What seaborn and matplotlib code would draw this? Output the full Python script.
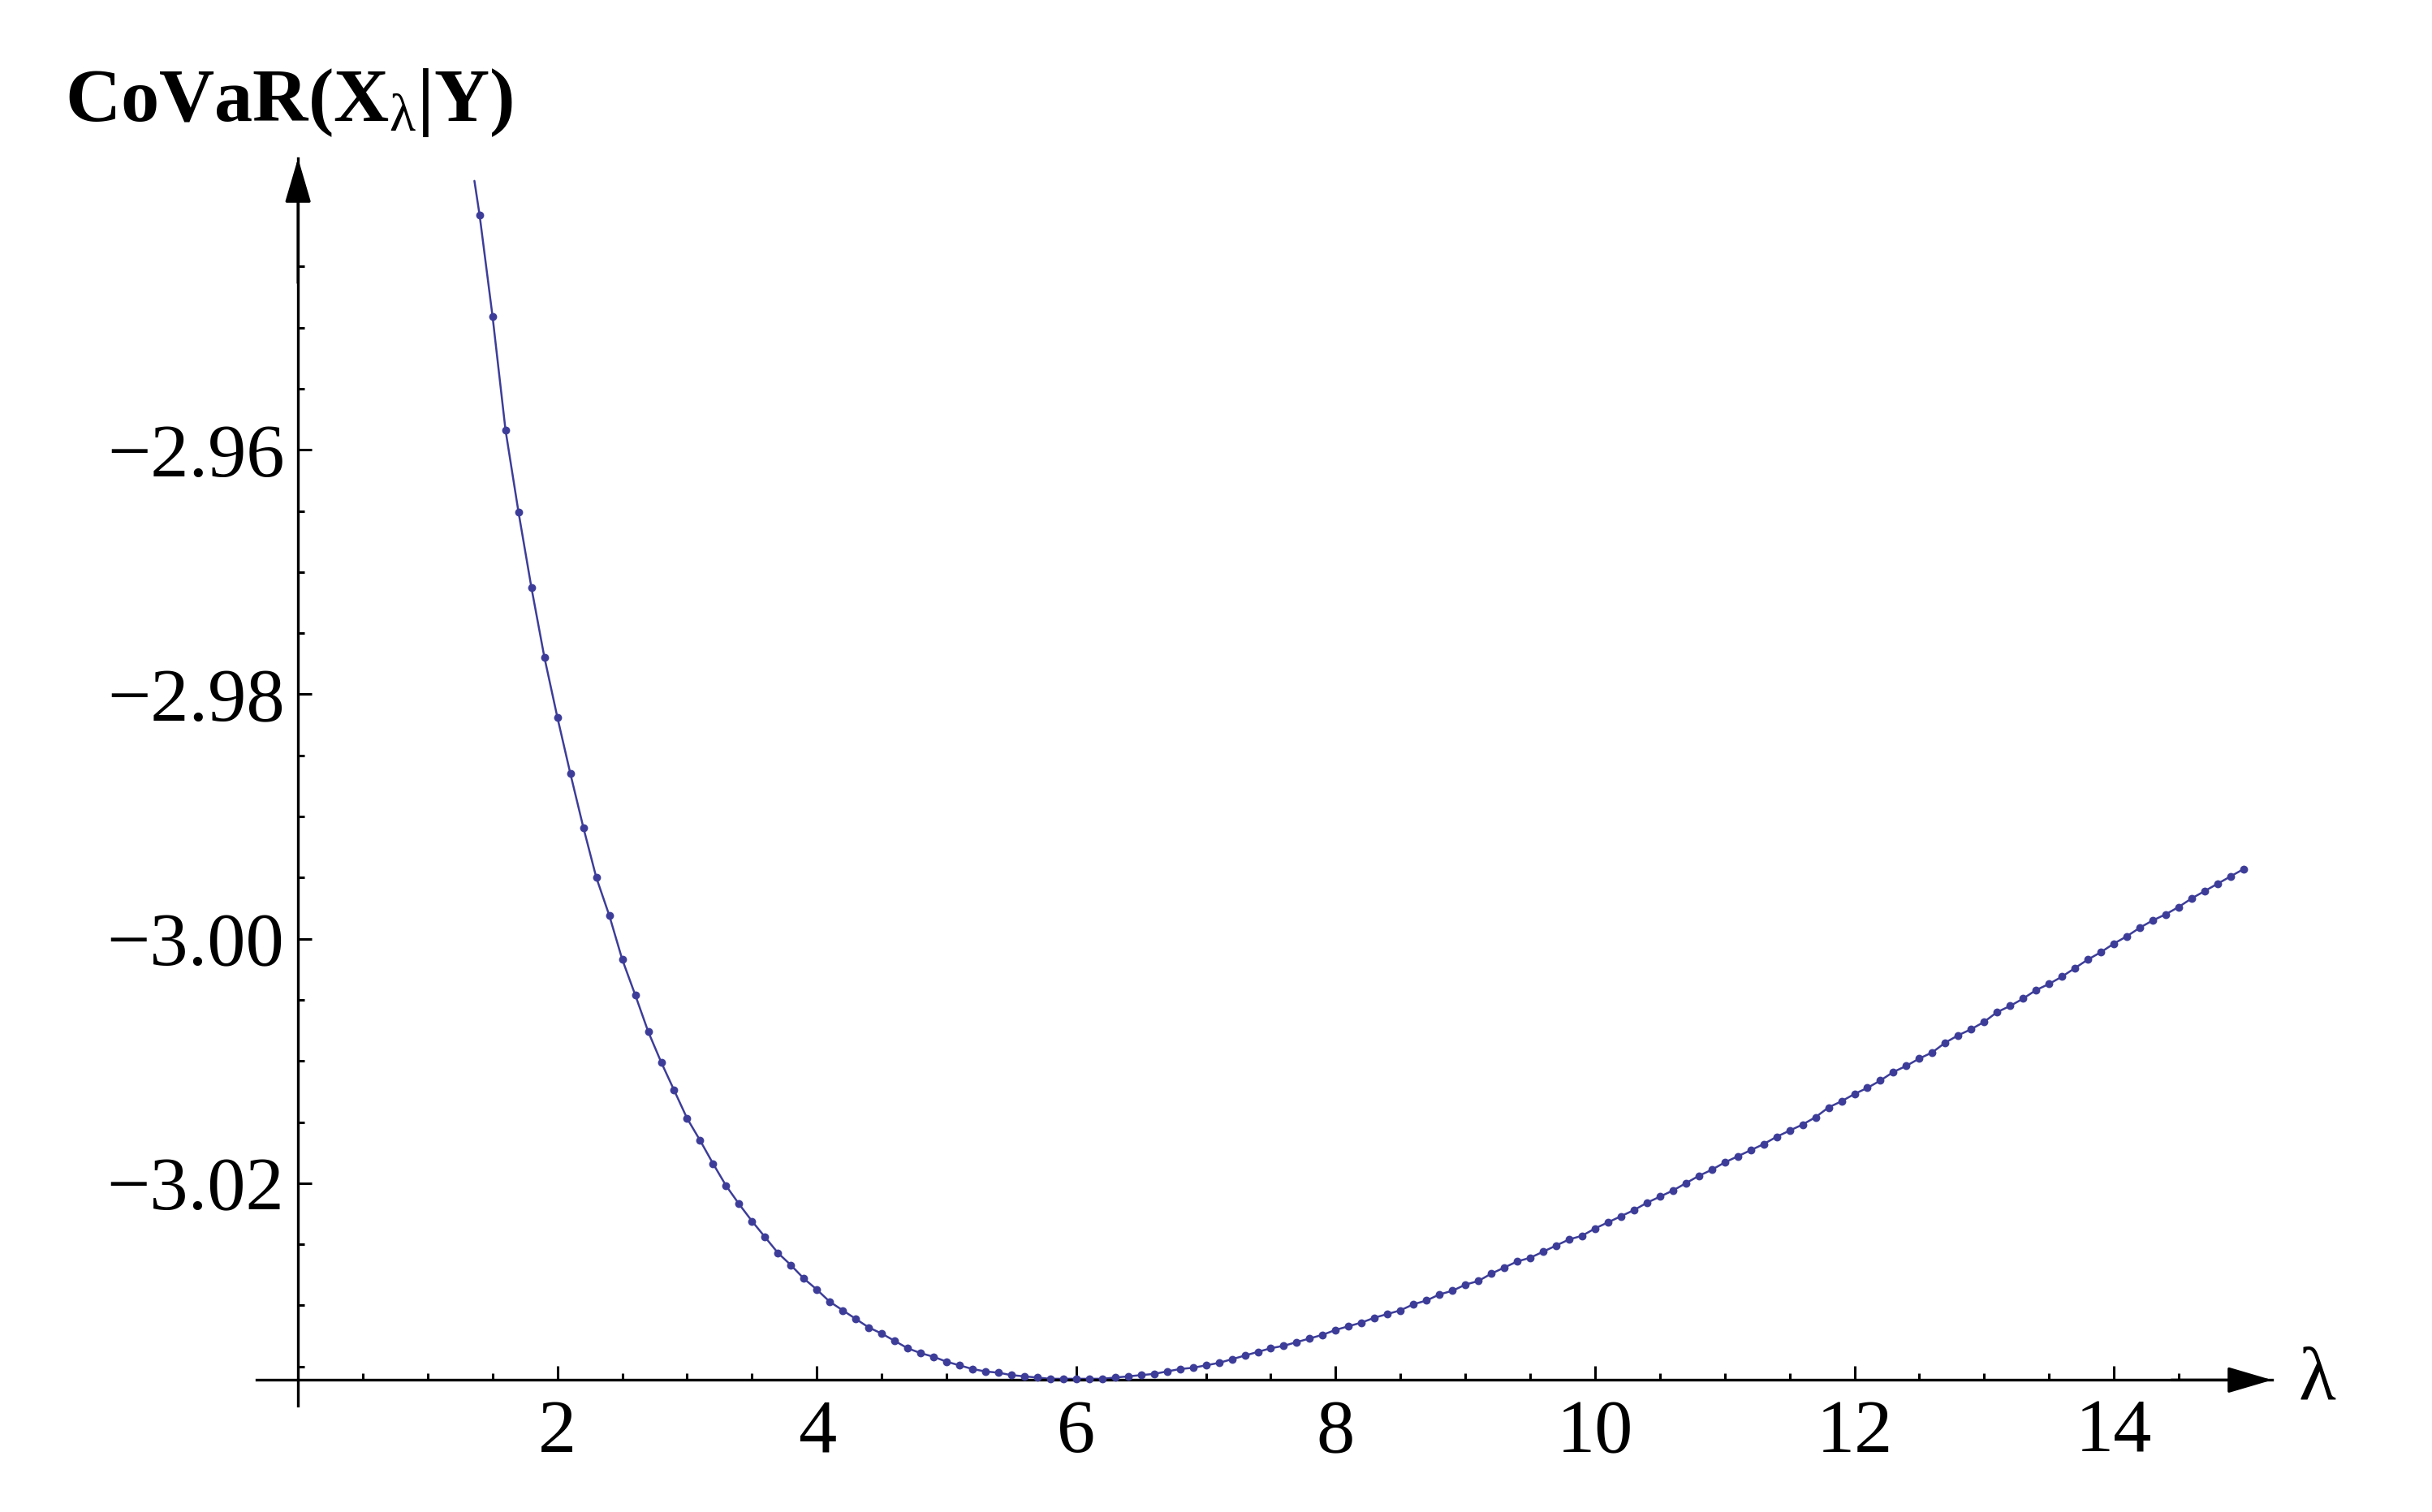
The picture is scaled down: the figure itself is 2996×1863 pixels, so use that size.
import numpy as np
import matplotlib
matplotlib.use("Agg")
import matplotlib.pyplot as plt
import seaborn as sns

# lambda grid of the sampled points (first one is where the curve leaves the top of the plot range)
lam = [1.36, 1.4, 1.5, 1.6, 1.7, 1.8, 1.9, 2.0, 2.1, 2.2, 2.3, 2.4, 2.5, 2.6, 2.7, 2.8, 2.9,
       3.0, 3.1, 3.2, 3.3, 3.4, 3.5, 3.6, 3.7, 3.8, 3.9, 4.0, 4.1, 4.2, 4.3, 4.4, 4.5,
       4.6, 4.7, 4.8, 4.9, 5.0, 5.1, 5.2, 5.3, 5.4, 5.5, 5.6, 5.7, 5.8, 5.9, 6.0, 6.1,
       6.2, 6.3, 6.4, 6.5, 6.6, 6.7, 6.8, 6.9, 7.0, 7.1, 7.2, 7.3, 7.4, 7.5, 7.6, 7.7,
       7.8, 7.9, 8.0, 8.1, 8.2, 8.3, 8.4, 8.5, 8.6, 8.7, 8.8, 8.9, 9.0, 9.1, 9.2, 9.3,
       9.4, 9.5, 9.6, 9.7, 9.8, 9.9, 10.0, 10.1, 10.2, 10.3, 10.4, 10.5, 10.6, 10.7,
       10.8, 10.9, 11.0, 11.1, 11.2, 11.3, 11.4, 11.5, 11.6, 11.7, 11.8, 11.9, 12.0,
       12.1, 12.2, 12.3, 12.4, 12.5, 12.6, 12.7, 12.8, 12.9, 13.0, 13.1, 13.2, 13.3,
       13.4, 13.5, 13.6, 13.7, 13.8, 13.9, 14.0, 14.1, 14.2, 14.3, 14.4, 14.5, 14.6,
       14.7, 14.8, 14.9, 15.0]

covar = [-2.9380, -2.9408, -2.9491, -2.9584, -2.9651, -2.9713, -2.9770, -2.9819, -2.9865,
         -2.9909, -2.9950, -2.9981, -3.0017, -3.0046, -3.0076, -3.0101, -3.0124,
         -3.0147, -3.0165, -3.0184, -3.0202, -3.0217, -3.0231, -3.0244, -3.0257,
         -3.0267, -3.0278, -3.0287, -3.0297, -3.0304, -3.0311, -3.0318, -3.0323,
         -3.0329, -3.0335, -3.0339, -3.0342, -3.0346, -3.0349, -3.0352, -3.0354,
         -3.0355, -3.0357, -3.0358, -3.0359, -3.0360, -3.0360, -3.0360, -3.0360,
         -3.0360, -3.0359, -3.0358, -3.0357, -3.0356, -3.0354, -3.0352, -3.0351,
         -3.0349, -3.0347, -3.0344, -3.0341, -3.0338, -3.0335, -3.0333, -3.0330,
         -3.0327, -3.0324, -3.0320, -3.0317, -3.0314, -3.0310, -3.0307, -3.0304,
         -3.0299, -3.0296, -3.0291, -3.0288, -3.0283, -3.0280, -3.0274, -3.0269,
         -3.0264, -3.0261, -3.0256, -3.0251, -3.0246, -3.0243, -3.0237, -3.0232,
         -3.0227, -3.0222, -3.0216, -3.0211, -3.0206, -3.0200, -3.0194, -3.0189,
         -3.0183, -3.0178, -3.0173, -3.0168, -3.0162, -3.0157, -3.0152, -3.0146,
         -3.0138, -3.0133, -3.0127, -3.0122, -3.0116, -3.0109, -3.0104, -3.0098,
         -3.0093, -3.0085, -3.0079, -3.0074, -3.0068, -3.0060, -3.0055, -3.0049,
         -3.0042, -3.0037, -3.0031, -3.0024, -3.0017, -3.0011, -3.0004, -2.9998,
         -2.9991, -2.9985, -2.9980, -2.9974, -2.9967, -2.9961, -2.9955, -2.9949,
         -2.9943]

x_major = [2, 4, 6, 8, 10, 12, 14]
y_major = [-3.02, -3.00, -2.98, -2.96]
y_labels = ["\u22123.02", "\u22123.00", "\u22122.98", "\u22122.96"]

sns.set_theme(style="white")
plt.rcParams["font.family"] = ["Liberation Serif", "DejaVu Serif"]
plt.rcParams["text.color"] = "black"
plt.rcParams["mathtext.fontset"] = "custom"
plt.rcParams["mathtext.rm"] = "Liberation Serif"
plt.rcParams["mathtext.bf"] = "Liberation Serif:bold"
plt.rcParams["mathtext.it"] = "Liberation Serif:italic"

W, H = 2996, 1863
fig = plt.figure(figsize=(W / 100, H / 100), dpi=100)
ax = fig.add_axes([316 / W, 1 - 1732 / H, (2799 - 316) / W, (1732 - 195) / H])

line_color = "#3d3d99"
sns.lineplot(x=lam, y=covar, ax=ax, color=line_color, linewidth=1.8, clip_on=False)
sns.scatterplot(x=lam[1:], y=covar[1:], ax=ax, color=line_color, marker="o", s=50,
                linewidth=0, clip_on=False, zorder=3)

x0, y0 = 0.0, -3.0361
ax.set_xlim(-0.32, 15.22)
ax.set_ylim(-3.0382, -2.93615)

# axes through the origin, Mathematica style
for side in ["top", "right"]:
    ax.spines[side].set_visible(False)
ax.spines["left"].set_position(("data", x0))
ax.spines["bottom"].set_position(("data", y0))
for side in ["left", "bottom"]:
    ax.spines[side].set_linewidth(2.4)
    ax.spines[side].set_color("black")

ax.set_xticks(x_major)
ax.set_xticklabels([str(v) for v in x_major])
ax.set_xticks([v for v in np.arange(0.5, 14.6, 0.5) if v not in x_major], minor=True)
ax.set_yticks(y_major)
ax.set_yticklabels(y_labels)
ax.set_yticks([v for v in np.arange(-3.035, -2.9449, 0.005)
               if min(abs(v - m) for m in y_major) > 1e-6], minor=True)

ax.tick_params(which="both", direction="in", width=2.2, color="black",
               bottom=True, left=True, top=False, right=False,
               labelsize=68, labelcolor="black")
ax.tick_params(which="major", length=12)
ax.tick_params(which="minor", length=6)
ax.tick_params(axis="y", which="major", pad=12)
ax.tick_params(axis="x", which="major", pad=17)
ax.set_xlabel("")
ax.set_ylabel("")

# arrow heads on both axes
arrow = dict(arrowstyle="-|>,head_length=1.7,head_width=0.5", mutation_scale=20,
             color="black", lw=2.4, shrinkA=0, shrinkB=0)
ax.annotate("", xy=(0, 1), xytext=(0, 0.9), xycoords=ax.get_xaxis_transform(),
            textcoords=ax.get_xaxis_transform(), arrowprops=arrow)
ax.annotate("", xy=(1, y0), xytext=(0.95, y0), xycoords=ax.get_yaxis_transform(),
            textcoords=ax.get_yaxis_transform(), arrowprops=arrow)

# axis labels
fig.text(80 / W, 1 - 149 / H, r"$\mathbf{CoVaR(X}_{\mathrm{\lambda}}\mathbf{|Y)}$",
         ha="left", va="baseline", fontsize=68, color="black")
fig.text(2854 / W, 1 - 1702 / H, "\u03bb", ha="center", va="center", fontsize=68,
         color="black")

fig.savefig("out.png", dpi=100, facecolor="white")
